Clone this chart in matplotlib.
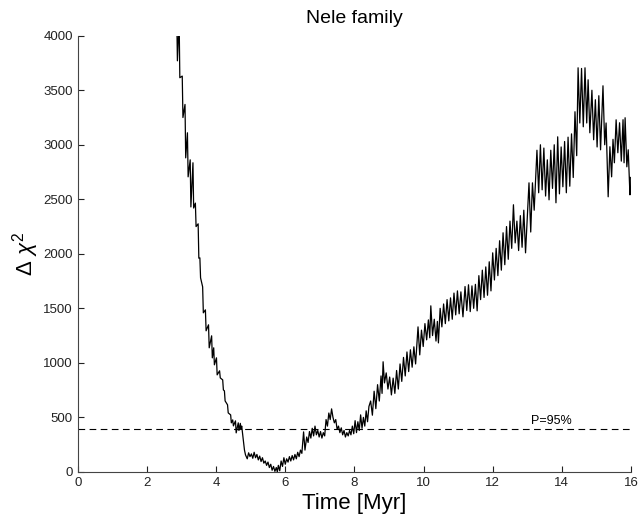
import matplotlib
matplotlib.use("Agg")
from matplotlib import pyplot as plt

plt.rcParams["font.family"] = ["Liberation Sans", "DejaVu Sans"]
plt.rcParams["mathtext.fontset"] = "custom"
plt.rcParams["mathtext.rm"] = "Liberation Sans"
plt.rcParams["mathtext.it"] = "Liberation Sans:italic"

# values (time in Myr, delta chi^2)
time_myr = [
    2.86, 2.88, 2.93, 2.95, 3.02, 3.04, 3.10, 3.12, 3.17, 3.19,
    3.25, 3.27, 3.33, 3.35, 3.40, 3.42, 3.48, 3.50, 3.53, 3.55,
    3.61, 3.63, 3.69, 3.71, 3.78, 3.80, 3.87, 3.89, 3.93, 3.95,
    4.01, 4.03, 4.10, 4.12, 4.19, 4.21, 4.24, 4.26, 4.33, 4.35,
    4.42, 4.44, 4.48, 4.50, 4.56, 4.58, 4.64, 4.66, 4.70, 4.72,
    4.74, 4.77, 4.82,
    4.85, 4.90, 4.94, 4.98, 5.02, 5.06, 5.10, 5.14, 5.18, 5.22,
    5.26, 5.30, 5.34, 5.38, 5.42, 5.46, 5.50, 5.54, 5.58, 5.62,
    5.66, 5.70, 5.74, 5.77, 5.80, 5.84, 5.88, 5.92, 5.96, 6.00,
    6.04, 6.08, 6.12, 6.16, 6.20, 6.24, 6.28, 6.32, 6.36, 6.40,
    6.44, 6.48, 6.53, 6.57, 6.62, 6.66, 6.70, 6.74, 6.78, 6.82,
    6.86, 6.90, 6.94, 6.98, 7.02, 7.06, 7.10, 7.14, 7.18, 7.22,
    7.26, 7.30, 7.34, 7.38, 7.42, 7.46, 7.50, 7.54, 7.58, 7.62,
    7.66, 7.70, 7.74, 7.78, 7.82, 7.86, 7.90, 7.94, 7.98, 8.02,
    8.06, 8.10, 8.14, 8.18, 8.22, 8.26, 8.30, 8.34, 8.38, 8.42,
    8.47, 8.52, 8.57, 8.62, 8.67, 8.72, 8.77, 8.80, 8.83, 8.87,
    8.92, 8.97, 9.02, 9.07, 9.12, 9.17, 9.22, 9.27, 9.32, 9.37,
    9.42, 9.47, 9.52, 9.57, 9.62, 9.67, 9.72, 9.77, 9.84, 9.89,
    9.94, 9.99, 10.04, 10.09, 10.14, 10.18, 10.21, 10.26, 10.31, 10.36,
    10.40, 10.43, 10.48, 10.53, 10.58, 10.63, 10.68, 10.73, 10.78, 10.83,
    10.88, 10.93, 10.98, 11.03, 11.08, 11.14, 11.20, 11.25, 11.30, 11.35,
    11.40, 11.45, 11.50, 11.55, 11.60, 11.65, 11.70, 11.75, 11.80, 11.85,
    11.90, 11.95, 12.00, 12.05, 12.10, 12.15, 12.20, 12.25, 12.30, 12.35,
    12.40, 12.45, 12.50, 12.55, 12.60, 12.65, 12.70, 12.75, 12.80, 12.85,
    12.90, 12.95, 13.05, 13.10, 13.15, 13.20, 13.28, 13.33, 13.38, 13.43,
    13.48, 13.53, 13.58, 13.63, 13.68, 13.73, 13.78, 13.83, 13.88, 13.93,
    13.98, 14.03, 14.08, 14.13, 14.18, 14.23, 14.28, 14.33, 14.38, 14.43,
    14.47, 14.52, 14.57, 14.62, 14.67, 14.72, 14.76, 14.81, 14.87, 14.92,
    14.97, 15.02, 15.07, 15.12, 15.19, 15.24, 15.28, 15.34, 15.39, 15.44,
    15.48, 15.52, 15.57, 15.62, 15.67, 15.72, 15.77, 15.80, 15.83, 15.88,
    15.92, 15.97, 15.98,
]
delta_chi2 = [
    4200, 3770, 4150, 3615, 3630, 3250, 3370, 2880, 3110, 2706,
    2862, 2430, 2835, 2420, 2465, 2250, 2275, 1960, 1963, 1780,
    1697, 1459, 1486, 1294, 1349, 1138, 1248, 1046, 1138, 982,
    1046, 890, 927, 862, 844, 752, 743, 651, 615, 541,
    523, 450, 477, 422, 468, 358, 450, 380, 445, 390,
    420, 339, 200,
    156, 120, 175, 140, 165, 125, 180, 130, 160, 110,
    145, 95, 130, 80, 100, 60, 90, 40, 70, 15,
    50, 5, 40, 0, 60, 10, 100, 50, 130, 70,
    120, 90, 140, 100, 150, 110, 160, 120, 180, 140,
    200, 170, 367, 200, 320, 270, 370, 310, 400, 330,
    420, 340, 380, 320, 370, 310, 360, 330, 480, 420,
    540, 480, 578, 500, 450, 480, 390, 420, 360, 404,
    340, 380, 320, 360, 330, 380, 340, 420, 350, 470,
    360, 460, 380, 523, 400, 500, 420, 560, 460, 600,
    650, 520, 740, 580, 800, 650, 880, 720, 1010, 816,
    908, 760, 870, 706, 860, 720, 930, 760, 990, 830,
    1050, 880, 1100, 920, 1120, 960, 1147, 990, 1330, 1073,
    1300, 1150, 1360, 1211, 1394, 1230, 1523, 1250, 1400, 1200,
    1380, 1183, 1500, 1330, 1540, 1360, 1580, 1385, 1596, 1400,
    1640, 1440, 1660, 1450, 1651, 1422, 1700, 1480, 1716, 1470,
    1706, 1500, 1720, 1477, 1800, 1580, 1850, 1600, 1880, 1620,
    1927, 1660, 2009, 1760, 2050, 1800, 2120, 1850, 2193, 1900,
    2250, 1950, 2300, 2050, 2450, 2100, 2300, 2030, 2350, 2060,
    2400, 2009, 2651, 2200, 2651, 2400, 2950, 2560, 3000, 2587,
    2970, 2530, 2862, 2495, 2950, 2600, 3000, 2468, 3073, 2550,
    2980, 2615, 3030, 2560, 3070, 2620, 3100, 2700, 3303, 2900,
    3706, 3200, 3700, 3165, 3706, 3200, 3596, 3110, 3500, 3046,
    3413, 2980, 3450, 2954, 3541, 3000, 3200, 2523, 2982, 2706,
    3050, 2835, 3229, 2927, 3202, 2850, 3230, 2835, 3248, 2798,
    2954, 2541, 2700,
]
p95_level = 390

fig = plt.figure(figsize=(6.38, 5.18), dpi=100)
ax = fig.add_axes([0.122, 0.089, 0.867, 0.842])

ax.plot(time_myr, delta_chi2, color="black", linewidth=0.9)
ax.axhline(p95_level, color="black", linestyle=(0, (6, 4)), linewidth=0.8)
ax.text(13.7, p95_level + 25, "P=95%", ha="center", va="bottom", fontsize=9)

ax.set_xlim(0, 16)
ax.set_ylim(0, 4000)
ax.set_xticks(range(0, 17, 2))
ax.set_yticks(range(0, 4001, 500))
ax.tick_params(direction="in", length=4, labelsize=9.5, colors="#222222")
for side in ("top", "right"):
    ax.spines[side].set_visible(False)
for side in ("left", "bottom"):
    ax.spines[side].set_color("#444444")

ax.set_title("Nele family", fontsize=14, pad=9)
ax.set_xlabel("Time [Myr]", fontsize=16, labelpad=3)
ax.set_ylabel(r"$\Delta\ \chi^{2}$", fontsize=16, labelpad=2)

plt.savefig("out.png", dpi=100)
